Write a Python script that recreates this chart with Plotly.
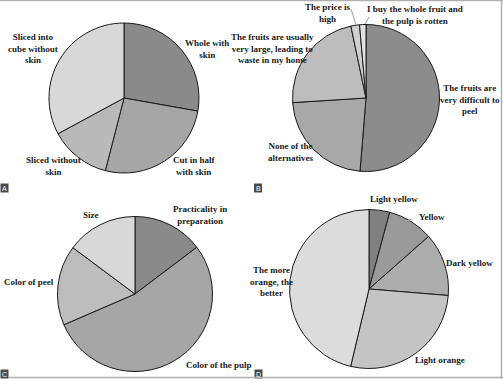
import plotly.graph_objects as go

W, H = 503, 379

# ---- data ----
a_labels = ["Whole with skin", "Cut in half with skin", "Sliced without skin", "Sliced into cube without skin"]
a_values = [27.8, 26.2, 13.1, 32.9]
a_colors = ["#8a8a8a", "#a6a6a6", "#b9b9b9", "#d8d8d8"]

b_labels = ["The fruits are very difficult to peel", "None of the alternatives",
            "The fruits are usually very large, leading to waste in my home",
            "The price is high", "I buy the whole fruit and the pulp is rotten"]
b_values = [51.3, 22.7, 22.7, 1.9, 1.4]
b_colors = ["#8c8c8c", "#a8a8a8", "#bdbdbd", "#d0d0d0", "#e2e2e2"]

c_labels = ["Practicality in preparation", "Color of the pulp", "Color of peel", "Size"]
c_values = [14.7, 53.8, 16.7, 14.8]
c_colors = ["#8a8a8a", "#a6a6a6", "#bdbdbd", "#d8d8d8"]

d_labels = ["Light yellow", "Yellow", "Dark yellow", "Light orange", "The more orange, the better"]
d_values = [4.2, 9.3, 12.8, 27.4, 46.3]
d_colors = ["#808080", "#9a9a9a", "#adadad", "#c4c4c4", "#dcdcdc"]

panel_letters = ["A", "B", "C", "D"]


def px_dom(cx, cy, r):
    return dict(x=[(cx - r) / W, (cx + r) / W], y=[1 - (cy + r) / H, 1 - (cy - r) / H])


fig = go.Figure()
for labels, values, colors, (cx, cy, r) in [
    (a_labels, a_values, a_colors, (124, 98, 75)),
    (b_labels, b_values, b_colors, (366, 98, 73.5)),
    (c_labels, c_values, c_colors, (135, 294, 77.5)),
    (d_labels, d_values, d_colors, (369, 289, 79.5)),
]:
    fig.add_trace(go.Pie(
        labels=labels, values=values, sort=False, direction="clockwise", rotation=0,
        marker=dict(colors=colors, line=dict(color="#1a1a1a", width=1)),
        textinfo="none", hoverinfo="label+percent", showlegend=False,
        domain=px_dom(cx, cy, r),
    ))

FONT = dict(family="Liberation Serif", size=9, color="#1a1a1a")

label_pos = [
    # text, x, y
    ("<b>Sliced into<br>cube without<br>skin</b>", 33, 48),
    ("<b>Whole with<br>skin</b>", 207, 49),
    ("<b>Cut in half<br>with skin</b>", 194, 166),
    ("<b>Sliced without<br>skin</b>", 53, 166),
    ("<b>The price is<br>high</b>", 327, 13),
    ("<b>I buy the whole fruit and<br>the pulp is rotten</b>", 415, 15),
    ("<b>The fruits are usually<br>very large, leading to<br>waste in my home</b>", 272, 49),
    ("<b>The fruits are<br>very difficult to<br>peel</b>", 470, 99),
    ("<b>None of the<br>alternatives</b>", 290, 152),
    ("<b>Practicality in<br>preparation</b>", 200, 215),
    ("<b>Size</b>", 91, 215),
    ("<b>Color of peel</b>", 29, 282),
    ("<b>Color of the pulp</b>", 219, 365),
    ("<b>Light yellow</b>", 394, 199),
    ("<b>Yellow</b>", 432, 217),
    ("<b>Dark yellow</b>", 469, 263),
    ("<b>Light orange</b>", 440, 360),
    ("<b>The more<br>orange, the<br>better</b>", 271, 281),
]
annotations = []
for t, x, y in label_pos:
    annotations.append(dict(text=t, x=x / W, y=1 - y / H, xref="paper", yref="paper",
                            showarrow=False, xanchor="center", yanchor="middle",
                            font=FONT, align="center"))

shapes = []
# leader lines
for (x0, y0, x1, y1) in [(351, 9, 356, 25), (369, 17, 365, 24), (412, 219, 405, 222), (303, 58, 301, 60)]:
    shapes.append(dict(type="line", xref="paper", yref="paper",
                       x0=x0 / W, y0=1 - y0 / H, x1=x1 / W, y1=1 - y1 / H,
                       line=dict(color="#9a9a9a", width=1)))

# panel letters
for letter, (x, y) in zip(panel_letters, [(4.5, 188), (258, 188), (4.5, 374), (258.5, 374)]):
    shapes.append(dict(type="rect", xref="paper", yref="paper",
                       x0=(x - 4) / W, x1=(x + 4) / W, y0=1 - (y + 4.5) / H, y1=1 - (y - 4.5) / H,
                       fillcolor="#4a4a4a", line=dict(width=0)))
    annotations.append(dict(text=letter, x=x / W, y=1 - y / H, xref="paper", yref="paper",
                            showarrow=False, xanchor="center", yanchor="middle",
                            font=dict(family="Liberation Sans", size=7, color="white")))

# frame lines
for (x0, y0, x1, y1) in [(0, 0.5, W, 0.5), (501.5, 0, 501.5, H), (8, 377.5, W, 377.5)]:
    shapes.append(dict(type="line", xref="paper", yref="paper",
                       x0=x0 / W, y0=1 - y0 / H, x1=x1 / W, y1=1 - y1 / H,
                       line=dict(color="#b0b0b0", width=1.5)))

fig.update_layout(width=W, height=H, margin=dict(l=0, r=0, t=0, b=0),
                  paper_bgcolor="white", plot_bgcolor="white",
                  annotations=annotations, shapes=shapes)
fig.write_html("out.html")
